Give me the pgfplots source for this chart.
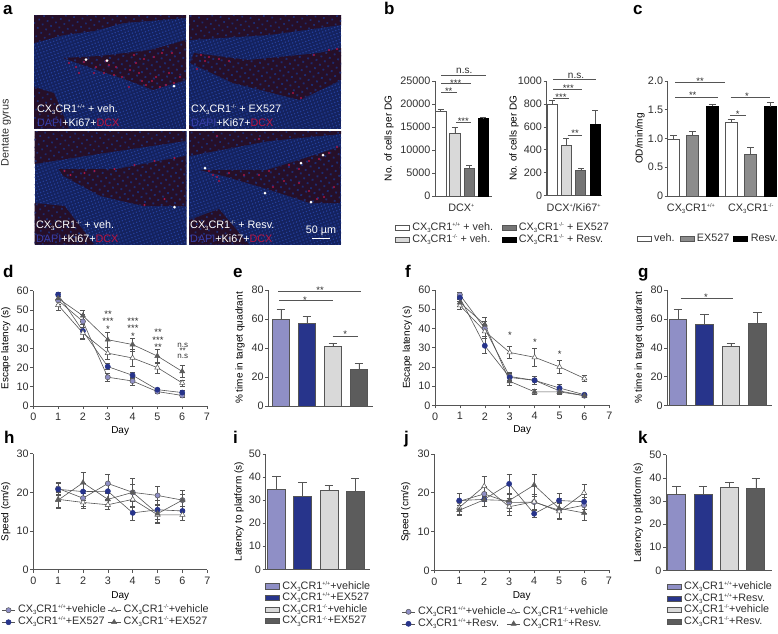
\documentclass[border=0pt]{standalone}
\usepackage{fontspec}
\setmainfont{Liberation Sans}
\usepackage{pgfplots}
\pgfplotsset{compat=1.18}
\usetikzlibrary{patterns.meta}
\definecolor{txt}{HTML}{2E2E2E}
\definecolor{axc}{HTML}{555555}
\definecolor{lpur}{HTML}{8F8FC6}
\definecolor{navy}{HTML}{27348B}
\definecolor{lgr}{HTML}{D9D9D9}
\definecolor{dgr}{HTML}{5C5C5C}
\definecolor{mgr}{HTML}{757575}
\definecolor{cgr}{HTML}{8C8C8C}
\definecolor{mblue}{HTML}{14225F}
\definecolor{mblue2}{HTML}{243E98}
\definecolor{mdark}{HTML}{260F28}
\definecolor{mdot}{HTML}{1C2C72}
\definecolor{mred}{HTML}{A81545}
\definecolor{dapi}{HTML}{3A3FA8}
\definecolor{dcxt}{HTML}{B8143F}
\newcommand\fs{\fontsize{10.8}{12}\selectfont}
\newcommand\CX{CX\raisebox{-2.2pt}{\fontsize{6}{6}\selectfont 3}CR1}
\newcommand\pp{\raisebox{3.8pt}{\fontsize{5.5}{6}\selectfont +/+}}
\newcommand\mm{\raisebox{3.8pt}{\fontsize{5.5}{6}\selectfont -/-}}
\newcommand\supp{\raisebox{3.8pt}{\fontsize{5.5}{6}\selectfont +}}
\newcommand\capsz{4.3pt}
\pgfplotsset{
 base/.style={scale only axis,axis lines=left,axis line style={-,color=axc,line width=0.6pt},
  tick align=outside,major tick length=3pt,tick style={color=axc,line width=0.6pt},
  enlargelimits=false,clip=false,scaled y ticks=false,
  /pgf/number format/assume math mode=true,/pgf/number format/1000 sep={},
  tick label style={font=\fs,text=txt,inner sep=1.5pt},
  label style={font=\fs,text=txt},
  legend cell align=left},
 yl/.style={every axis y label/.style={at={(axis description cs:0,0.5)},anchor=center,xshift=-#1pt,rotate=90}},
 xl/.style={every axis x label/.style={at={(axis description cs:0.5,0)},anchor=center,yshift=-#1pt}},
 barax/.style={base,ybar,bar shift=0pt,bar width=#1pt,xtick style={draw=none},xtick={},ymin=0},
 bst/.style={forget plot,line width=0.8pt,
  /pgfplots/error bars/y dir=plus,/pgfplots/error bars/y explicit,
  /pgfplots/error bars/error bar style={color=axc,line width=0.6pt},
  /pgfplots/error bars/error mark options={rotate=90,color=axc,mark size=\capsz,line width=0.6pt}},
 lineax/.style={base,xmin=0,xmax=7,xtick={0,...,7},xticklabel style={yshift=-2.5pt}},
 lst/.style={forget plot,color=axc,line width=0.6pt,mark options={solid},
  /pgfplots/error bars/y dir=both,/pgfplots/error bars/y explicit,
  /pgfplots/error bars/error bar style={color=axc,line width=0.5pt},
  /pgfplots/error bars/error mark options={rotate=90,color=axc,mark size=2.5pt,line width=0.5pt}},
 sA/.style={mark=*,mark size=2.6pt,mark options={fill=lpur,draw=axc,line width=0.5pt}},
 sB/.style={mark=*,mark size=2.6pt,mark options={fill=navy,draw=navy,line width=0.5pt}},
 sC/.style={mark=triangle*,mark size=3pt,mark options={fill=white,draw=axc,line width=0.5pt}},
 sD/.style={mark=triangle*,mark size=3pt,mark options={fill=dgr,draw=dgr,line width=0.5pt}},
 lineleg/.style={legend image code/.code={\draw[color=axc,line width=0.6pt] (0pt,0pt)--(13pt,0pt);\draw[draw=none,##1] plot coordinates {(6.5pt,0pt)};}},
 boxleg/.style={legend image code/.code={\draw[line width=0.7pt,##1] (0pt,-2.4pt) rectangle (14pt,2.8pt);}},
 lg/.style n args={6}{legend columns=#3,transpose legend,
  legend style={at={(axis description cs:0,0)},anchor=north west,xshift=#1pt,yshift=#2pt,
   draw=none,fill=none,inner sep=0pt,outer sep=0pt,row sep=0pt,font=\fs,text=txt,
   nodes={inner sep=0pt,text height=8.2pt,text depth=#4pt},
   /tikz/column 1/.style={column sep=2.7pt},/tikz/column 3/.style={column sep=2.7pt},/tikz/column 5/.style={column sep=2.7pt},
   /tikz/column 2/.style={column sep=#5pt},/tikz/column 4/.style={column sep=#6pt}}},
}
\newcommand\B[5]{\addplot[bst,fill=#4,draw=#5] coordinates {(#1,#2) +- (0,#3)};}
\newcommand\LI[1]{\addlegendimage{#1}}
\newcommand\mic[7]{% x0,y0,topdark,hilus,bottomdark,reddots,whitedots
 \begin{scope}[shift={(#1,#2)}]
 \clip (0,0) rectangle (152,113.5);
 \fill[mblue] (0,0) rectangle (152,113.5);
 \fill[pattern={Dots[distance=3.2pt,radius=0.85pt,angle=20]},pattern color=mblue2] (0,0) rectangle (152,113.5);
 \fill[mdark] #3 -- cycle;
 \fill[mdark] #4 -- cycle;
 \fill[mdark] #5 -- cycle;
 \fill[pattern={Dots[distance=6pt,radius=1.2pt,angle=35]},pattern color=mdot] #3 -- cycle;
 \fill[pattern={Dots[distance=6pt,radius=1.3pt,angle=35]},pattern color=mdot] #4 -- cycle;
 \fill[pattern={Dots[distance=6pt,radius=1.2pt,angle=35]},pattern color=mdot] #5 -- cycle;
 \foreach \a/\b in {#6} {\fill[mred] (\a,\b) circle (1.1);}
 \foreach \a/\b in {#7} {\fill[white] (\a,\b) circle (1.5);}
 \end{scope}
}
\newcommand\sig[4]{\draw[color=axc,line width=0.6pt] (#1,#3) -- (#2,#3); }
\newcommand\st[3]{\node[font=\fontsize{9.5}{10}\selectfont,text=txt,anchor=base,inner sep=0pt] at (#1,#2+5.5) {#3};}
\newcommand\stk[3]{\node[font=\fontsize{9.5}{5}\selectfont,text=txt,align=center,anchor=north,inner sep=0pt] at (#1,#2) {#3};}
\newcommand\ns[3]{\node[font=\fontsize{10}{10}\selectfont,text=txt,anchor=base,inner sep=0pt] at (#1,#2) {#3};}
\newcommand\pl[3]{\node[font=\fontsize{17}{17}\bfseries\selectfont,text=black,anchor=base west,inner sep=0pt] at (#1,#2) {#3};}
\begin{document}
\begin{tikzpicture}
\useasboundingbox (0pt,0pt) rectangle (778pt,-633pt);
\begin{scope}[x=1pt,y=-1pt]
\mic{34}{15}{(0,0)--(152,0)--(152,3)--(90,8)--(60,16)--(30,20)--(0,28)}
 {(29,43)--(66,41)--(116,35)--(152,25)--(152,65)--(119,75)--(93,65)--(63,55)}
 {(0,72)--(20,78)--(35,113.5)--(0,113.5)}
 {35/48,50/47,62/52,72/46,82/52,88/62,96/55,105/58,112/70,118/66,126/72,132/70,140/68,146/62,102/48,120/42,128/38,138/38,80/60,70/58,60/58,42/52,45/58,100/40,110/44,122/62,135/58,75/50,95/72,108/66}
 {52/44.5,73/45.5,140/71}
\mic{189}{15}{(0,0)--(152,0)--(152,10)--(80,20)--(0,25)}
 {(5,38)--(60,45)--(130,38)--(152,33)--(152,65)--(111,85)--(44,68)--(1,48)}
 {(0,110)--(5,113.5)--(0,113.5)}
 {12/40,20/42,30/44,16/46,8/54,140/35,148/34,125/40,40/46,112/83,104/78}
 {}
\mic{34.5}{131}{(0,0)--(151,0)--(151,10)--(70,22)--(0,33)}
 {(24,38)--(82,38)--(151,25)--(151,75)--(109,75)--(66,65)--(29,45)}
 {(0,72)--(30,75)--(60,113.5)--(0,113.5)}
 {30/40,36/44,50/42,60/40,80/38,100/34,120/30,140/27,110/74,130/68}
 {140/76}
\mic{189}{131}{(0,0)--(152,0)--(152,3)--(80,10)--(0,25)}
 {(11,39)--(78,39)--(151,16)--(151,72)--(121,72)--(78,58)--(38,46)}
 {(0,89)--(30,78)--(60,113.5)--(0,113.5)}
 {20/40,24/44,28/46,30/50,40/42,55/44,70/44,80/40,100/34,110/38,120/30,130/28,140/22,148/16,95/50,110/52,120/60,128/68,135/66,145/56,84/56,70/8,28/5}
 {16/37,112/32,134/24,76/62,122/71}
\node[font=\fs,text=txt,rotate=90,anchor=center,inner sep=0pt] at (6,133) {Dentate gyrus};
\foreach \x/\y/\t in {37/112/{\CX\pp{} + veh.},191/112/{\CX\mm{} + EX527},36/228/{\CX\mm{} + veh.},190/228/{\CX\mm{} + Resv.}}
 {\node[font=\fs,text=white,anchor=base west,inner sep=0pt] at (\x,\y) {\t};}
\foreach \x/\y in {37/126,191/126,36/242,190/242}
 {\node[font=\fs,anchor=base west,inner sep=0pt] at (\x,\y) {\textcolor{dapi}{DAPI}\textcolor{white}{+Ki67+}\textcolor{dcxt}{DCX}};}
\node[font=\fs,text=white,anchor=base,inner sep=0pt] at (321,233) {50 µm};
\fill[white] (311.7,237.6) rectangle (330,239);
\pl{3}{14}{a}\pl{384}{14}{b}\pl{633}{14}{c}
\pl{3}{277}{d}\pl{233}{277}{e}\pl{405}{277}{f}\pl{638}{277}{g}
\pl{4}{443}{h}\pl{233}{443}{i}\pl{404}{443}{j}\pl{638}{443}{k}
\end{scope}

\renewcommand\capsz{3pt}
% b left
\begin{axis}[barax=10.4,at={(435pt,-196pt)},anchor=south west,width=57pt,height=115pt,
 xmin=0.6,xmax=4.6,ymax=25000,ytick={0,5000,10000,15000,20000,25000},xtick={2.45},xticklabels={DCX\supp},
 xticklabel style={yshift=-3pt},ylabel={No. of cells per DG},yl=46,
 boxleg,lg={-40}{-26.5}{2}{3.4}{8.5}{0}]
\B{1}{18300}{500}{white}{axc}
\B{2}{13700}{1300}{lgr}{axc}
\B{3}{6000}{700}{mgr}{axc}
\B{4}{16800}{400}{black}{black}
\LI{fill=white,draw=axc}\addlegendentry{\CX\pp{} + veh.}
\LI{fill=lgr,draw=axc}\addlegendentry{\CX\mm{} + veh.}
\LI{fill=mgr,draw=axc}\addlegendentry{\CX\mm{} + EX527}
\LI{fill=black,draw=black}\addlegendentry{\CX\mm{} + Resv.}
\end{axis}
% b right
\begin{axis}[barax=10,at={(546.7pt,-195.5pt)},anchor=south west,width=55pt,height=114.5pt,
 xmin=0.63,xmax=4.45,ymax=1000,ytick={0,200,...,1000},xtick={2.5},xticklabels={DCX\supp/Ki67\supp},
 xticklabel style={yshift=-3pt},ylabel={No. of cells per DG},yl=32.7]
\B{1}{800}{35}{white}{axc}
\B{2}{440}{60}{lgr}{axc}
\B{3}{215}{25}{mgr}{axc}
\B{4}{625}{115}{black}{black}
\end{axis}
\renewcommand\capsz{3.5pt}
% c
\begin{axis}[barax=12,at={(667.7pt,-196pt)},anchor=south west,width=103pt,height=115pt,
 xmin=0.7,xmax=6.02,ymax=2,ytick={0,0.5,1,1.5,2},yticklabels={0,0.5,1.0,1.5,2.0},
 xtick={1.9,4.99},xticklabels={\CX\pp,\CX\mm},xticklabel style={yshift=-3pt},
 ylabel={OD/min/mg},yl=27.7,boxleg,lg={-31}{-37.5}{3}{3.4}{5}{4},transpose legend=false]
\B{1}{0.98}{0.07}{white}{axc}
\B{1.98}{1.05}{0.07}{cgr}{axc}
\B{3}{1.56}{0.04}{black}{black}
\B{3.98}{1.28}{0.05}{white}{axc}
\B{4.98}{0.73}{0.11}{cgr}{axc}
\B{6}{1.55}{0.08}{black}{black}
\LI{fill=white,draw=axc}\addlegendentry{veh.}
\LI{fill=cgr,draw=axc}\addlegendentry{EX527}
\LI{fill=black,draw=black}\addlegendentry{Resv.}
\end{axis}
% d
\begin{axis}[lineax,at={(33.3pt,-406pt)},anchor=south west,width=173.7pt,height=115.3pt,
 ymin=0,ymax=60,ytick={0,10,...,60},xlabel={Day},xl=25,ylabel={Escape latency (s)},yl=27.6]
\addplot[lst,sA] coordinates {(1,55)+-(0,2)(2,44)+-(0,4)(3,15)+-(0,2.3)(4,13)+-(0,2)(5,7.5)+-(0,1)(6,5.5)+-(0,1)};
\addplot[lst,sB] coordinates {(1,58)+-(0,1)(2,39)+-(0,3.5)(3,20.5)+-(0,1.5)(4,16)+-(0,1.5)(5,8.5)+-(0,1)(6,7)+-(0,1)};
\addplot[lst,sC] coordinates {(1,52.5)+-(0,2.5)(2,38)+-(0,3)(3,27.5)+-(0,3)(4,25)+-(0,4.5)(5,20)+-(0,3)(6,12)+-(0,1.5)};
\addplot[lst,sD] coordinates {(1,56)+-(0,1)(2,47)+-(0,3)(3,34.5)+-(0,4)(4,32)+-(0,3.5)(5,26)+-(0,3.5)(6,18)+-(0,3)};
\end{axis}
\renewcommand\capsz{4.3pt}
% e
\begin{axis}[barax=17.5,at={(268.3pt,-406pt)},anchor=south west,width=105pt,height=116pt,
 xmin=0.515,xmax=4.55,ymax=80,ytick={0,20,...,80},xtick=\empty,ylabel={\% time in target quadrant},yl=28.3]
\B{1}{59.5}{7.5}{lpur}{axc}
\B{2}{57}{5}{navy}{axc}
\B{3}{41}{2.5}{lgr}{axc}
\B{4}{25.5}{4}{dgr}{axc}
\end{axis}
% f
\begin{axis}[lineax,at={(435pt,-405.3pt)},anchor=south west,width=174.3pt,height=115.3pt,
 ymin=0,ymax=60,ytick={0,10,...,60},xlabel={Day},xl=25,ylabel={Escape latency (s)},yl=27.7]
\addplot[lst,sA] coordinates {(1,57.5)+-(0,1.5)(2,40)+-(0,4)(3,15)+-(0,2)(4,13)+-(0,2)(5,7.5)+-(0,1)(6,5)+-(0,1)};
\addplot[lst,sB] coordinates {(1,56)+-(0,1)(2,31)+-(0,4)(3,14.5)+-(0,2)(4,13)+-(0,2)(5,9)+-(0,2)(6,5.5)+-(0,1)};
\addplot[lst,sC] coordinates {(1,52)+-(0,2)(2,38.5)+-(0,3.5)(3,27.5)+-(0,3)(4,25)+-(0,4.5)(5,20)+-(0,3.2)(6,14)+-(0,1.5)};
\addplot[lst,sD] coordinates {(1,53.5)+-(0,2)(2,42)+-(0,4)(3,12.5)+-(0,2.3)(4,7)+-(0,1.5)(5,7)+-(0,1)(6,5)+-(0,1)};
\end{axis}
% g
\begin{axis}[barax=17.5,at={(667.3pt,-405.7pt)},anchor=south west,width=104.7pt,height=115.7pt,
 xmin=0.595,xmax=4.56,ymax=80,ytick={0,20,...,80},xtick=\empty,ylabel={\% time in target quadrant},yl=28]
\B{1}{59.5}{7.5}{lpur}{axc}
\B{2}{56.5}{6.5}{navy}{axc}
\B{3}{41}{2.5}{lgr}{axc}
\B{4}{57}{7.5}{dgr}{axc}
\end{axis}
% h
\begin{axis}[lineax,at={(33.3pt,-569.7pt)},anchor=south west,width=174pt,height=116pt,
 ymin=0,ymax=30,ytick={0,10,20,30},xlabel={Day},xl=26,ylabel={Speed (cm/s)},yl=27.6,
 lineleg,lg={-31.6}{-34.5}{2}{3.8}{1.5}{0}]
\addplot[lst,sA] coordinates {(1,21)+-(0,1.5)(2,18.5)+-(0,2)(3,22.3)+-(0,2.5)(4,20)+-(0,3.6)(5,19.2)+-(0,2.4)(6,18)+-(0,2.5)};
\addplot[lst,sB] coordinates {(1,20.8)+-(0,1.5)(2,20.2)+-(0,2.2)(3,20.3)+-(0,2)(4,14.7)+-(0,1.8)(5,15.5)+-(0,2.5)(6,15.2)+-(0,2.5)};
\addplot[lst,sC] coordinates {(1,18.2)+-(0,2)(2,17.4)+-(0,1.6)(3,16.8)+-(0,1.2)(4,18.2)+-(0,2)(5,14.2)+-(0,1.8)(6,14.2)+-(0,1.5)};
\addplot[lst,sD] coordinates {(1,18)+-(0,2)(2,22.5)+-(0,2.7)(3,18.2)+-(0,1.8)(4,20)+-(0,2.2)(5,14.5)+-(0,2.5)(6,18)+-(0,1.6)};
\LI{sA}\addlegendentry{\CX\pp+vehicle}
\LI{sB}\addlegendentry{\CX\pp+EX527}
\LI{sC}\addlegendentry{\CX\mm+vehicle}
\LI{sD}\addlegendentry{\CX\mm+EX527}
\end{axis}
% i
\begin{axis}[barax=18,at={(265.7pt,-569.3pt)},anchor=south west,width=104.3pt,height=115.3pt,
 xmin=0.585,xmax=4.57,ymax=50,ytick={0,10,...,50},xtick=\empty,ylabel={Latency to platform (s)},yl=26.7,
 boxleg,lg={-0.7}{-11.5}{1}{3.4}{0}{0}]
\B{1}{34.5}{6}{lpur}{axc}
\B{2}{31.5}{6.2}{navy}{axc}
\B{3}{34.2}{2.3}{lgr}{axc}
\B{4}{33.8}{5.7}{dgr}{axc}
\LI{fill=lpur,draw=axc}\addlegendentry{\CX\pp+vehicle}
\LI{fill=navy,draw=axc}\addlegendentry{\CX\pp+EX527}
\LI{fill=lgr,draw=axc}\addlegendentry{\CX\mm+vehicle}
\LI{fill=dgr,draw=axc}\addlegendentry{\CX\mm+EX527}
\end{axis}
% j
\begin{axis}[lineax,at={(434.3pt,-570.3pt)},anchor=south west,width=174.7pt,height=116.3pt,
 ymin=0,ymax=30,ytick={0,10,20,30},xlabel={Day},xl=26,ylabel={Speed (cm/s)},yl=28.6,
 lineleg,lg={-32.6}{-35.5}{2}{3.8}{1}{0}]
\addplot[lst,sA] coordinates {(1,17.8)+-(0,2)(2,19.7)+-(0,2)(3,17.5)+-(0,2.2)(4,17.6)+-(0,2)(5,15.5)+-(0,2)(6,16.8)+-(0,2)};
\addplot[lst,sB] coordinates {(1,18)+-(0,2)(2,18.3)+-(0,1.8)(3,22.3)+-(0,2.6)(4,14.6)+-(0,1)(5,18)+-(0,2)(6,17.7)+-(0,2)};
\addplot[lst,sC] coordinates {(1,16.2)+-(0,1.8)(2,21.7)+-(0,2.5)(3,16.4)+-(0,2.3)(4,17.7)+-(0,2)(5,15.2)+-(0,2)(6,20)+-(0,2.3)};
\addplot[lst,sD] coordinates {(1,15.5)+-(0,1.2)(2,18.2)+-(0,1.8)(3,18)+-(0,2)(4,22)+-(0,2.9)(5,16)+-(0,2.5)(6,14.8)+-(0,2)};
\LI{sA}\addlegendentry{\CX\pp+vehicle}
\LI{sB}\addlegendentry{\CX\pp+Resv.}
\LI{sC}\addlegendentry{\CX\mm+vehicle}
\LI{sD}\addlegendentry{\CX\mm+Resv.}
\end{axis}
% k
\begin{axis}[barax=18,at={(666pt,-570.3pt)},anchor=south west,width=105.7pt,height=115.6pt,
 xmin=0.6,xmax=4.6,ymax=50,ytick={0,10,...,50},xtick=\empty,ylabel={Latency to platform (s)},yl=27.7,
 boxleg,lg={0.7}{-11}{1}{3.4}{0}{0}]
\B{1}{33}{3.5}{lpur}{axc}
\B{2}{33}{3.2}{navy}{axc}
\B{3}{36}{2.2}{lgr}{axc}
\B{4}{35.5}{4.5}{dgr}{axc}
\LI{fill=lpur,draw=axc}\addlegendentry{\CX\pp+vehicle}
\LI{fill=navy,draw=axc}\addlegendentry{\CX\pp+Resv.}
\LI{fill=lgr,draw=axc}\addlegendentry{\CX\mm+vehicle}
\LI{fill=dgr,draw=axc}\addlegendentry{\CX\mm+Resv.}
\end{axis}

\begin{scope}[x=1pt,y=-1pt]
% b
\sig{441.3}{486}{75.7}{}\ns{464.3}{73}{n.s.}
\sig{441.3}{470.7}{83.3}{}\st{455.7}{80.7}{***}
\sig{441.3}{456.7}{92.3}{}\st{448.7}{89}{**}
\sig{456}{471}{122.3}{}\st{463.3}{119}{***}
\sig{553.3}{596}{79.3}{}\ns{576}{78}{n.s.}
\sig{553.3}{582.3}{89}{}\st{568.3}{86}{***}
\sig{553.3}{568.7}{98.3}{}\st{561}{95}{***}
\sig{567.7}{582.3}{135}{}\st{575}{131}{**}
% c
\sig{675.3}{725.3}{82.3}{}\st{700}{79}{**}
\sig{675.3}{717.7}{97}{}\st{692.7}{93}{**}
\sig{730.7}{770}{97}{}\st{747}{94}{*}
\sig{730}{746}{115}{}\st{737.7}{112}{*}
% d
\stk{108}{310.5}{**\\***\\*}
\stk{133}{317.5}{***\\***\\*}
\stk{158}{329}{**\\***\\**}
\node[font=\fontsize{8}{5.6}\selectfont,text=txt,align=center,anchor=north,inner sep=0pt] at (182.7,343) {n.s\\**\\n.s};
% e
\sig{278.3}{361}{291}{}\st{320}{287.5}{**}
\sig{279}{332.7}{300.7}{}\st{305}{297.7}{*}
\sig{332.7}{357.7}{336.7}{}\st{345.3}{332.3}{*}
% f
\st{510}{332.7}{*}\st{535}{340}{*}\st{559.7}{352.3}{*}
% g
\sig{680.7}{733.3}{298}{}\st{706}{295}{*}
\end{scope}
\end{tikzpicture}
\end{document}
